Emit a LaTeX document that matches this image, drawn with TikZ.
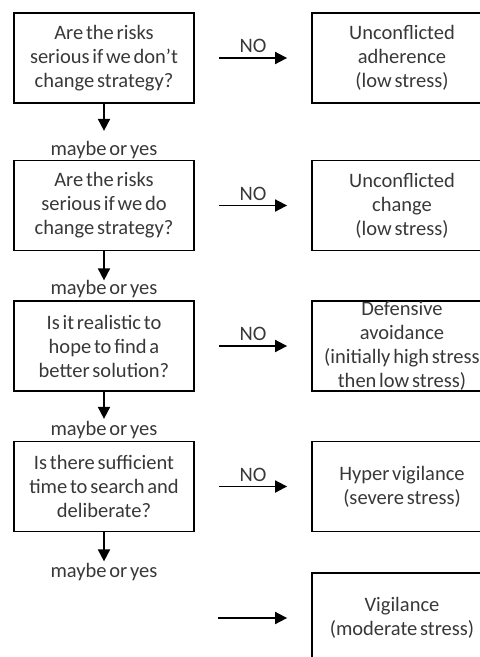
\documentclass[tikz,border=0pt]{standalone}
\usepackage{fontspec}
\setmainfont{Carlito}[WordSpace=0.6]
\usetikzlibrary{arrows.meta}
\definecolor{txt}{HTML}{383838}
\begin{document}
\begin{tikzpicture}[x=1pt,y=-1pt,
  box/.style={draw=black, line width=1.8pt, minimum width=180pt, minimum height=90pt,
              inner sep=0pt, align=center, text=txt, font=\fontsize{20.5}{24}\selectfont},
  lbl/.style={text=txt, font=\fontsize{20.5}{24}\selectfont, inner sep=0pt},
  arr/.style={line width=1.8pt, -{Triangle[length=12pt,width=12pt]}},
  no/.style={lbl, midway, above=4pt}]
\useasboundingbox (0,0) rectangle (480,657);
\clip (0,0) rectangle (480,657);

% questions (left column)
\node[box] (q1) at (104,58)    {Are the risks\\serious if we don’t\\change strategy?};
\node[box] (q2) at (104,205.5) {Are the risks\\serious if we do\\change strategy?};
\node[box] (q3) at (104,346)   {Is it realistic to\\hope to find a\\better solution?};
\node[box] (q4) at (104,486.5) {Is there sufficient\\time to search and\\deliberate?};

% outcomes (right column)
\node[box] (r1) at (402,58)    {Unconflicted\\adherence\\(low stress)};
\node[box] (r2) at (402,205.5) {Unconflicted\\change\\(low stress)};
\node[box] (r3) at (402,346)   {Defensive\\avoidance\\\makebox[0pt]{(initially high stress}\\then low stress)};
\node[box] (r4) at (402,486.5) {Hyper vigilance\\(severe stress)};
\node[box] (r5) at (402,618)   {Vigilance\\(moderate stress)};

% "maybe or yes" answers
\node[lbl] (m1) at (104,150) {maybe or yes};
\node[lbl] (m2) at (104,289) {maybe or yes};
\node[lbl] (m3) at (104,430) {maybe or yes};
\node[lbl] (m4) at (104,572) {maybe or yes};

% downward arrows
\draw[arr] (q1.south) -- ++(0,27);
\draw[arr] (q2.south) -- ++(0,29);
\draw[arr] (q3.south) -- ++(0,27);
\draw[arr] (q4.south) -- ++(0,29);

% NO arrows
\draw[arr] ([xshift=24pt]q1.east) -- ([xshift=-24pt]r1.west) node[no] {NO};
\draw[arr] ([xshift=24pt]q2.east) -- ([xshift=-24pt]r2.west) node[no] {NO};
\draw[arr] ([xshift=24pt]q3.east) -- ([xshift=-24pt]r3.west) node[no] {NO};
\draw[arr] ([xshift=24pt]q4.east) -- ([xshift=-24pt]r4.west) node[no] {NO};

% final arrow to vigilance
\coordinate (s5) at (218,618);
\draw[arr] (s5) -- ([xshift=-24pt]r5.west);
\end{tikzpicture}
\end{document}
